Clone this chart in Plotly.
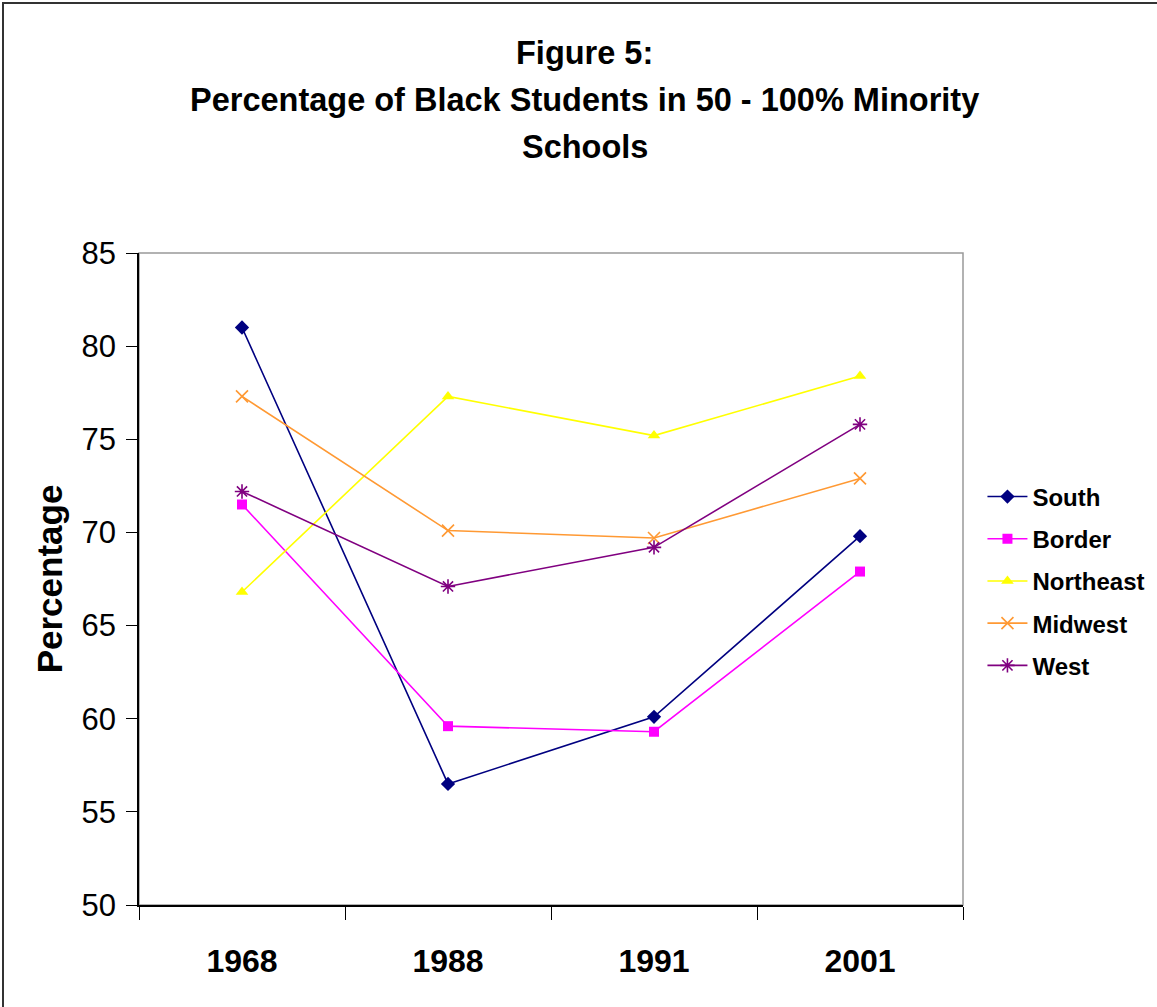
import plotly.graph_objects as go

years = ["1968", "1988", "1991", "2001"]
south = [81.0, 56.5, 60.1, 69.8]
border = [71.5, 59.6, 59.3, 67.9]
northeast = [66.8, 77.3, 75.2, 78.4]
midwest = [77.3, 70.1, 69.7, 72.9]
west = [72.2, 67.1, 69.2, 75.8]

title_lines = ["Figure 5:", "Percentage of Black Students in 50 - 100% Minority", "Schools"]

series = [
    ("South", south, "#000080", "diamond", 11, {}),
    ("Border", border, "#FF00FF", "square", 10, {}),
    ("Northeast", northeast, "#FFFF00", "triangle-up", 11, {}),
    ("Midwest", midwest, "#FF9933", "x-thin-open", 12, {"line": {"width": 1.6, "color": "#FF9933"}}),
    ("West", west, "#800080", "asterisk-open", 12, {"line": {"width": 1.6, "color": "#800080"}}),
]

fig = go.Figure()
for i, (name, vals, color, sym, size, extra) in enumerate(series):
    marker = dict(symbol=sym, size=size, color=color)
    marker.update(extra)
    fig.add_trace(go.Scatter(
        x=years, y=vals, name=name, mode="lines+markers",
        line=dict(color=color, width=1.6), marker=marker,
        legendgroup=name,
    ))

font_family = "Liberation Sans, Arial, sans-serif"

fig.update_layout(
    width=1157, height=1007,
    margin=dict(l=139, r=194, t=253, b=102, autoexpand=False),
    paper_bgcolor="white", plot_bgcolor="white",
    font=dict(family=font_family, color="black"),
    showlegend=True,
    legend=dict(
        x=1.0236, xanchor="left", y=0.497, yanchor="middle",
        font=dict(size=24, family=font_family, color="black", weight="bold"),
        traceorder="grouped", tracegroupgap=8,
        bgcolor="rgba(0,0,0,0)", itemwidth=40,
    ),
    xaxis=dict(
        type="category", tickson="boundaries",
        ticks="outside", ticklen=13, tickcolor="black", tickwidth=1,
        showline=True, linecolor="black", linewidth=1.5,
        showgrid=False, zeroline=False,
        tickfont=dict(size=32, family=font_family, color="black", weight="bold"),
        ticklabelstandoff=27,
        range=[-0.5, 3.5],
    ),
    yaxis=dict(
        range=[50, 85], dtick=5, tick0=50,
        ticks="outside", ticklen=11, tickcolor="black", tickwidth=1,
        showline=True, linecolor="black", linewidth=1.5,
        showgrid=False, zeroline=False,
        tickfont=dict(size=31, family=font_family, color="black"),
        ticklabelstandoff=4,
        title=dict(text="<b>Percentage</b>", font=dict(size=35, family=font_family, color="black"), standoff=8),
    ),
)

title_y = [1.3067, 1.2347, 1.1633]
for txt, ty in zip(title_lines, title_y):
    fig.add_annotation(text="<b>" + txt + "</b>", xref="paper", yref="paper",
                       x=0.541, xanchor="center", y=ty, yanchor="middle",
                       showarrow=False, font=dict(size=32.5, family=font_family, color="black"))

# plot-area border (gray top/right)
fig.add_shape(type="rect", xref="x domain", yref="y domain", x0=0, x1=1, y0=0, y1=1,
              line=dict(color="#999999", width=1.5), layer="below")
# outer chart frame
fig.add_shape(type="rect", xref="paper", yref="paper",
              x0=(3 - 139) / 824, x1=1.4, y0=-0.3, y1=(905 - 3) / 652,
              line=dict(color="#333333", width=2), layer="below")

fig.write_html("out.html")
